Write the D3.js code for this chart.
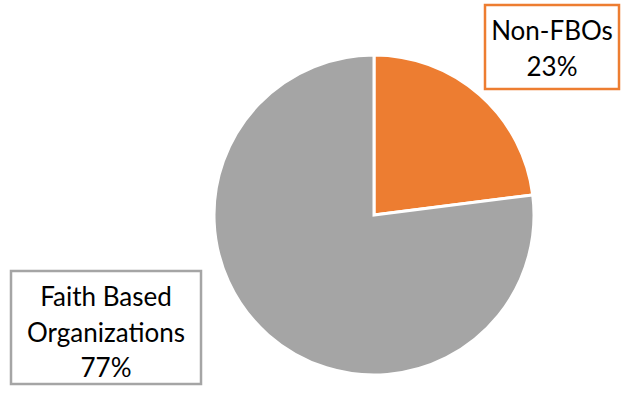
<!DOCTYPE html>
<html>
<head>
<meta charset="utf-8">
<script src="https://d3js.org/d3.v7.min.js"></script>
<style>
	body { margin: 0; background: #fff; }
	svg { display: block; }
</style>
</head>
<body>
<div id="vis"></div>
<script>
// data
const CATEGORIES = ["Non-FBOs", "Faith Based Organizations"];
const VALUES = [23, 77];
const COLORS = ["#ED7D31", "#A5A5A5"];

const FRAME_WIDTH = 621;
const FRAME_HEIGHT = 394;
const CX = 374, CY = 215, RADIUS = 160;

const FRAME = d3.select("#vis")
	.append("svg")
		.attr("width", FRAME_WIDTH)
		.attr("height", FRAME_HEIGHT);

const data = CATEGORIES.map((c, i) => ({category: c, value: VALUES[i], color: COLORS[i]}));

const PIE = d3.pie().sort(null).value((d) => d.value);
const ARC = d3.arc().innerRadius(0).outerRadius(RADIUS);

const arcs = PIE(data);

// slices
FRAME.append("g")
		.attr("transform", "translate(" + CX + "," + CY + ")")
	.selectAll("path")
	.data(arcs)
	.enter()
	.append("path")
		.attr("d", ARC)
		.style("fill", (d) => d.data.color)
		.style("stroke", "#fff")
		.style("stroke-width", 3)
		.style("stroke-linejoin", "miter");

// label boxes (box: x, y, w, h; base: baseline of first line)
const LABELS = [
	{box: [485, 5, 134, 84], base: 40, lines: ["Non-FBOs", VALUES[0] + "%"], color: COLORS[0]},
	{box: [11, 271, 190, 113], base: 306, lines: ["Faith Based", "Organizations", VALUES[1] + "%"], color: COLORS[1]}
];

const LINE_H = 35.7;

LABELS.forEach((l) => {
	const g = FRAME.append("g");
	g.append("rect")
		.attr("x", l.box[0])
		.attr("y", l.box[1])
		.attr("width", l.box[2])
		.attr("height", l.box[3])
		.style("fill", "#fff")
		.style("stroke", l.color)
		.style("stroke-width", 2.5);
	const midX = l.box[0] + l.box[2] / 2;
	g.selectAll("text")
		.data(l.lines)
		.enter()
		.append("text")
			.attr("x", midX)
			.attr("y", (d, i) => l.base + i * LINE_H)
			.attr("text-anchor", "middle")
			.style("font-family", "Lato, 'Open Sans', sans-serif")
			.style("font-size", "26px")
			.style("fill", "#000")
			.text((d) => d);
});
</script>
</body>
</html>
